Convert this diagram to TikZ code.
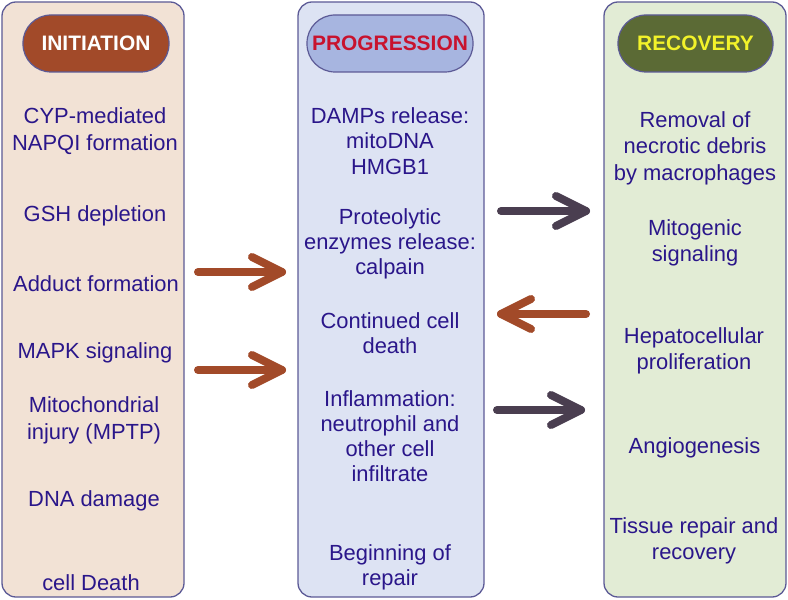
\documentclass[tikz,border=0pt]{standalone}
\usepackage{fontspec}
\setmainfont{Liberation Sans}
\definecolor{txt}{RGB}{42,22,138}
\definecolor{bord}{RGB}{92,90,150}
\definecolor{lfill}{RGB}{242,226,213}
\definecolor{mfill}{RGB}{221,227,243}
\definecolor{rfill}{RGB}{226,236,213}
\definecolor{ipill}{RGB}{162,74,41}
\definecolor{ppill}{RGB}{167,181,224}
\definecolor{rpill}{RGB}{91,106,53}
\definecolor{ptxt}{RGB}{200,18,46}
\definecolor{ytxt}{RGB}{242,242,42}
\definecolor{brarr}{RGB}{162,74,41}
\definecolor{dkarr}{RGB}{74,62,80}
\tikzset{
  panel/.style={draw=bord, line width=1.3bp, rounded corners=14bp, minimum height=595bp, inner sep=0pt},
  pill/.style={draw=bord, line width=1.2bp, rounded corners=28bp, minimum height=57bp, inner sep=0pt, font=\fontsize{21}{24}\selectfont\bfseries},
  item/.style={text=txt, align=center, inner sep=0pt, font=\fontsize{22}{27}\selectfont},
  itemm/.style={text=txt, align=center, inner sep=0pt, font=\fontsize{22}{25.3}\selectfont},
  itemr/.style={text=txt, align=center, inner sep=0pt, font=\fontsize{22}{26.5}\selectfont},
  bigarrow/.style={line width=8bp, line cap=round, line join=round},
}
\begin{document}
\begin{tikzpicture}[x=1bp,y=-1bp]
\useasboundingbox (0,0) rectangle (788,600);
% panels
\node[panel, fill=lfill, minimum width=182bp] (pl) at (93,299.5) {};
\node[panel, fill=mfill, minimum width=186bp] (pm) at (391,299.5) {};
\node[panel, fill=rfill, minimum width=182bp] (pr) at (695,299.5) {};
% pills
\node[pill, fill=ipill, text=white, minimum width=146bp] (hi) at (96,43.5) {INITIATION};
\node[pill, fill=ppill, text=ptxt, minimum width=166bp] (hp) at (390,43.5) {PROGRESSION};
\node[pill, fill=rpill, text=ytxt, minimum width=155bp] (hr) at (695.5,43.5) {RECOVERY};
% left items
\node[item] (l1) at (95,131) {CYP-mediated\\NAPQI formation};
\node[item] (l2) at (95,216) {GSH depletion};
\node[item] (l3) at (96,284) {Adduct formation};
\node[item] (l4) at (95,353) {MAPK signaling};
\node[item] (l5) at (94,420) {Mitochondrial\\injury (MPTP)};
\node[item] (l6) at (94,501) {DNA damage};
\node[item] (l7) at (91,583) {cell Death};
% middle items
\node[itemm] (m1) at (390,141) {DAMPs release:\\mitoDNA\\HMGB1};
\node[itemm] (m2) at (390,244) {Proteolytic\\enzymes release:\\calpain};
\node[itemm] (m3) at (390,333) {Continued cell\\death};
\node[itemm] (m4) at (390,436) {Inflammation:\\neutrophil and\\other cell\\infiltrate};
\node[itemm] (m5) at (390,567) {Beginning of\\repair};
% right items
\node[itemr] (r1) at (695,148) {Removal of\\necrotic debris\\by macrophages};
\node[itemr] (r2) at (695,243) {Mitogenic\\signaling};
\node[itemr] (r3) at (694,351) {Hepatocellular\\proliferation};
\node[itemr] (r4) at (694.5,448) {Angiogenesis};
\node[itemr] (r5) at (694,541) {Tissue repair and\\recovery};
% arrow coordinates
\coordinate (a1s) at (198,272); \coordinate (a1e) at (282,272);
\coordinate (a2s) at (198,370); \coordinate (a2e) at (282,370);
\coordinate (a3s) at (501,211); \coordinate (a3e) at (586,211);
\coordinate (a4s) at (586,314); \coordinate (a4e) at (501,314);
\coordinate (a5s) at (497,410); \coordinate (a5e) at (581,410);
% arrows
\draw[bigarrow, brarr] (a1s) -- (a1e);
\draw[bigarrow, brarr] ([shift={(-30,-15)}]a1e) -- (a1e) -- ([shift={(-30,15)}]a1e);
\draw[bigarrow, brarr] (a2s) -- (a2e);
\draw[bigarrow, brarr] ([shift={(-30,-15)}]a2e) -- (a2e) -- ([shift={(-30,15)}]a2e);
\draw[bigarrow, dkarr] (a3s) -- (a3e);
\draw[bigarrow, dkarr] ([shift={(-30,-15)}]a3e) -- (a3e) -- ([shift={(-30,15)}]a3e);
\draw[bigarrow, brarr] (a4s) -- (a4e);
\draw[bigarrow, brarr] ([shift={(30,-15)}]a4e) -- (a4e) -- ([shift={(30,15)}]a4e);
\draw[bigarrow, dkarr] (a5s) -- (a5e);
\draw[bigarrow, dkarr] ([shift={(-30,-15)}]a5e) -- (a5e) -- ([shift={(-30,15)}]a5e);
\end{tikzpicture}
\end{document}
